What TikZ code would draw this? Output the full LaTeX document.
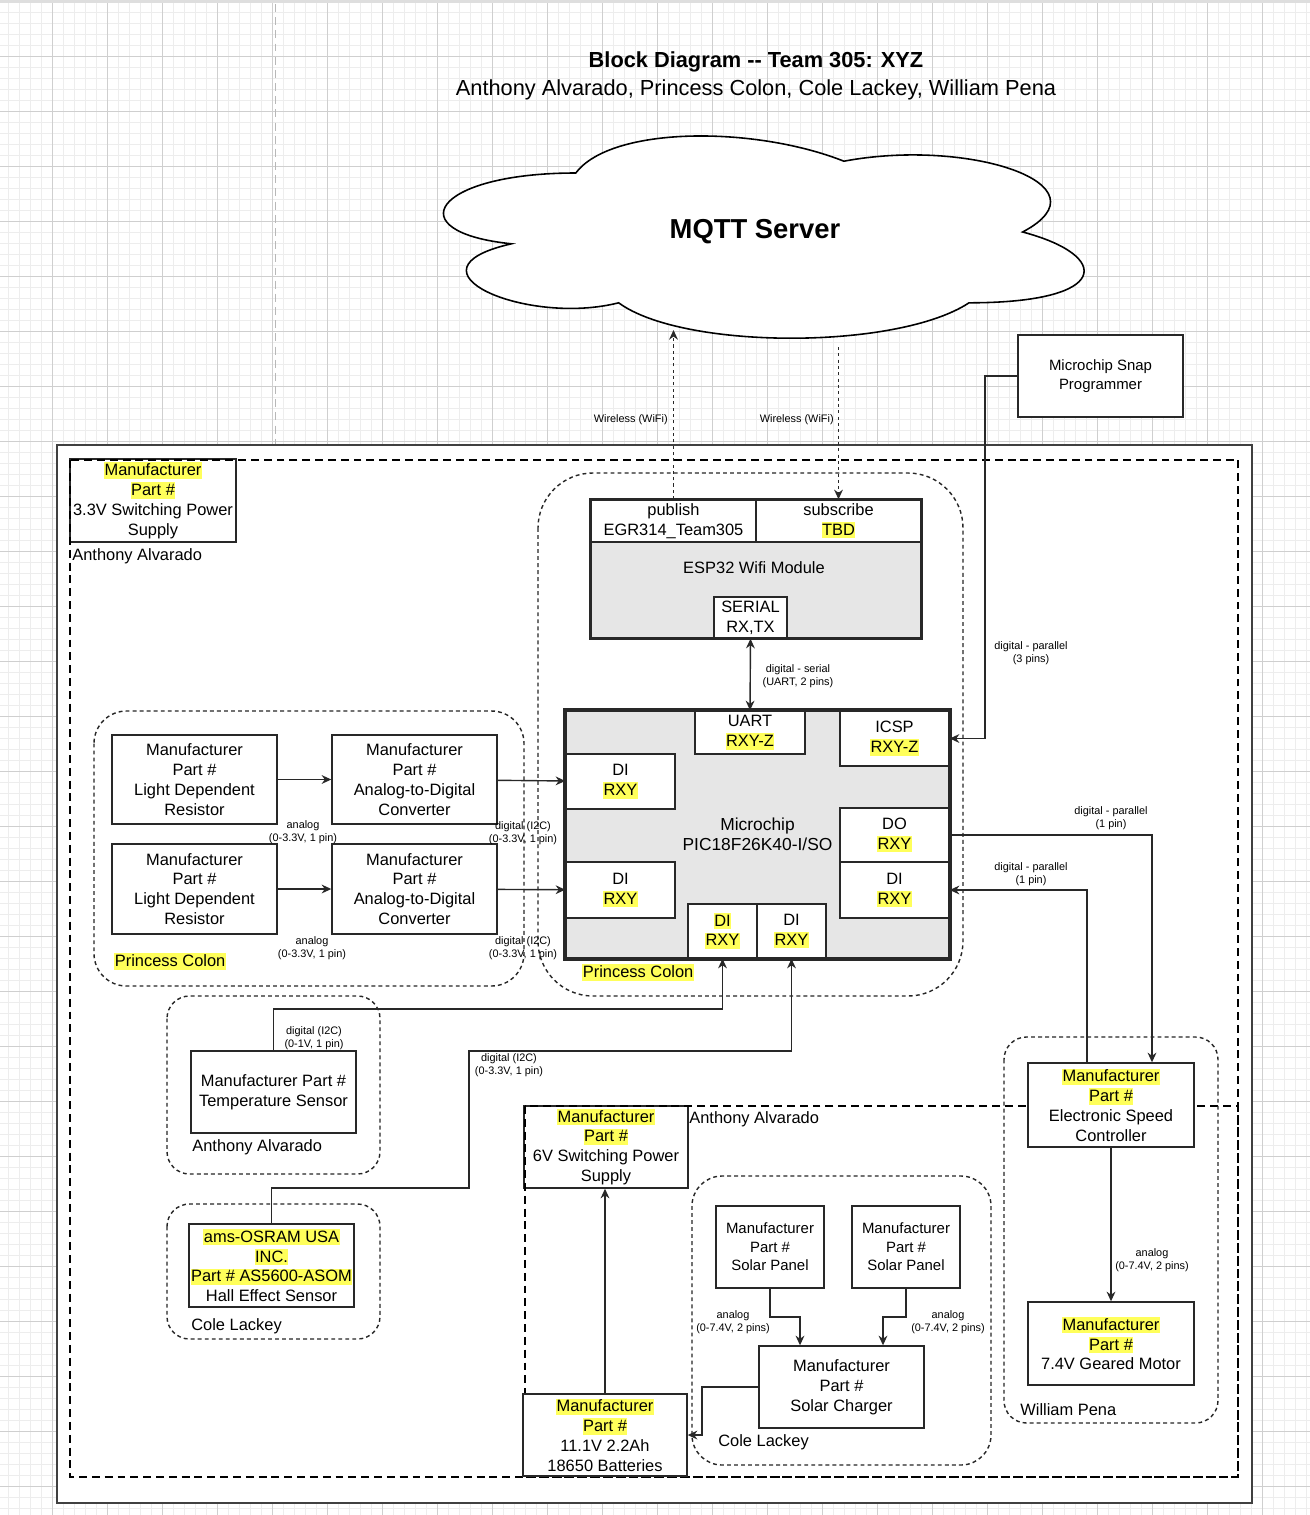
\documentclass[tikz,border=0pt]{standalone}
\usepackage{fontspec}
\setmainfont{Liberation Sans}
\usetikzlibrary{arrows.meta,calc}
\definecolor{hly}{RGB}{255,255,90}
\definecolor{chipgray}{RGB}{230,230,230}
\definecolor{linegray}{RGB}{40,40,40}
\newcommand{\hlt}[1]{{\setlength{\fboxsep}{0pt}\colorbox{hly}{\kern0.3pt\rule[-0.19em]{0pt}{0.99em}#1\kern0.3pt}}}
\newcommand{\fmain}{\fontsize{9.35}{11.3}\selectfont}
\newcommand{\fsmall}{\fontsize{6.2}{7.5}\selectfont}
\newcommand{\fpanel}{\fontsize{8.5}{10.5}\selectfont}
\newcommand{\fchip}{\fontsize{9.9}{11.4}\selectfont}
\newcommand{\ftitle}{\fontsize{12.4}{15}\selectfont}
\newcommand{\fmqtt}{\fontsize{15.6}{18}\selectfont}

\begin{document}
\begin{tikzpicture}[x=0.02cm,y=-0.02cm,
  box/.style={draw=linegray,line width=0.8pt,fill=white,inner sep=0pt,align=center,font=\fmain},
  chipbox/.style={box,fill=chipgray,line width=1.6pt},
  grp/.style={draw=black!85,line width=0.8pt,dash pattern=on 2.2pt off 1.8pt},
  teamframe/.style={draw=black,line width=1.6pt,dash pattern=on 4.5pt off 2.8pt},
  arr/.style={draw=linegray,line width=0.8pt,-{Stealth[length=5.5pt,width=5pt]}},
  dbl/.style={draw=linegray,line width=0.8pt,{Stealth[length=5.5pt,width=5pt]}-{Stealth[length=5.5pt,width=5pt]}},
  warr/.style={arr,dash pattern=on 1.8pt off 1.8pt},
  lbl/.style={inner sep=0pt,align=center,font=\fsmall,yshift=-0.03cm},
  who/.style={inner sep=0pt,anchor=west,font=\fmain,yshift=-0.03cm},
  gridminor/.style={draw=black!7,line width=0.8pt},
  gridmajor/.style={draw=black!19,line width=0.6pt}]
\useasboundingbox (0,0) rectangle (1310,1515);
\fill[white] (0,0) rectangle (1310,1515);
\foreach \i in {0,...,118} \draw[gridminor] ({8.3+11*\i},0) -- ++(0,1515);
\foreach \j in {0,...,137} \draw[gridminor] (0,{1.7+11*\j}) -- ++(1310,0);
\foreach \i in {0,...,22} \draw[gridmajor] ({52.3+55*\i},0) -- ++(0,1515);
\foreach \j in {0,...,26} \draw[gridmajor] (0,{56.7+55*\j}) -- ++(1310,0);
\fill[black!13] (0,0) rectangle (1310,2.5);
\draw[black!28,line width=1.1pt,dash pattern=on 4.5pt off 3pt] (275.5,4) -- (275.5,445);

\node[font=\bfseries\ftitle] (title) at (756,62) {Block Diagram -\kern0pt- Team 305: XYZ};
\node[font=\ftitle] (names) at (756,90) {Anthony Alvarado, Princess Colon, Cole Lackey, William Pena};

\filldraw[fill=white,draw=black,line width=0.9pt] (575.75,173) .. controls (432.75,173) and (397,232) .. (511.4,243.8) .. controls (397,269.8) and (525.7,326.4) .. (618.65,302.8) .. controls (683,350) and (897.5,350) .. (969,302.8) .. controls (1112,302.8) and (1112,255.6) .. (1022.6,232) .. controls (1112,184.8) and (969,137.6) .. (843.9,161.2) .. controls (754.5,125.8) and (611.5,125.8) .. (575.75,173) -- cycle;
\node[font=\bfseries\fmqtt] (mqtt) at (755,232) {MQTT Server};

\node[box,font=\fpanel,minimum width=3.3cm,minimum height=1.64cm] (snap) at (1100.5,376) {Microchip Snap\\Programmer};

\filldraw[fill=white,draw=black!75,line width=0.9pt] (57,445) rectangle (1252,1503);

\node[box,minimum width=3.32cm,minimum height=1.66cm] (pwr33) at (153,500.5) {\hlt{Manufacturer}\\\hlt{Part \#}\\3.3V Switching Power\\Supply};
\node[box,minimum width=3.28cm,minimum height=1.64cm] (pwr6) at (606,1147) {\hlt{Manufacturer}\\\hlt{Part \#}\\6V Switching Power\\Supply};
\draw[teamframe] (70,460) rectangle (1238,1477);
\draw[teamframe] (525,1106) rectangle (1238,1477);

\draw[grp,rounded corners=1.1cm] (538,473) rectangle (963,996);
\draw[grp,rounded corners=0.65cm] (94,711) rectangle (524,986);
\draw[grp,rounded corners=0.45cm] (167,996) rectangle (380,1174);
\draw[grp,rounded corners=0.45cm] (167,1204) rectangle (380,1339);
\draw[grp,rounded corners=0.6cm] (692,1176) rectangle (991,1465);
\draw[grp,rounded corners=0.45cm] (1004,1037) rectangle (1218,1423);

\node[chipbox,line width=0.8pt,minimum width=6.6cm,minimum height=1.92cm] (esp) at (756,590) {};
\node[box,minimum width=3.3cm,minimum height=0.84cm] (pub) at (673.5,521) {publish\\EGR314\_Team305};
\node[box,minimum width=3.3cm,minimum height=0.84cm] (sub) at (838.5,521) {subscribe\\\hlt{TBD}};
\node[font=\fmain,inner sep=0pt] (esplbl) at (754,568) {ESP32 Wifi Module};
\node[box,minimum width=1.46cm,minimum height=0.82cm] (serial) at (750.5,617.5) {SERIAL\\RX,TX};
\draw[linegray,line width=1.6pt] (pub.north west) rectangle (esp.south east);

\node[chipbox,font=\fchip,minimum width=7.66cm,minimum height=4.94cm] (chip) at (757.5,834.5) {Microchip\\PIC18F26K40-I/SO};
\node[box,minimum width=2.2cm,minimum height=0.86cm] (uart) at (750,732.5) {UART\\\hlt{RXY-Z}};
\node[box,minimum width=2.18cm,minimum height=1.1cm] (icsp) at (894.5,738.5) {ICSP\\\hlt{RXY-Z}};
\node[box,minimum width=2.18cm,minimum height=1.1cm] (diA) at (620.5,781.5) {DI\\\hlt{RXY}};
\node[box,minimum width=2.18cm,minimum height=1.12cm] (diB) at (620.5,890) {DI\\\hlt{RXY}};
\node[box,minimum width=2.18cm,minimum height=1.08cm] (doR) at (894.5,835) {DO\\\hlt{RXY}};
\node[box,minimum width=2.18cm,minimum height=1.12cm] (diR) at (894.5,890) {DI\\\hlt{RXY}};
\node[box,minimum width=1.38cm,minimum height=1.08cm] (diC) at (722.5,931) {\hlt{DI}\\\hlt{RXY}};
\node[box,minimum width=1.38cm,minimum height=1.08cm] (diD) at (791.5,931) {DI\\\hlt{RXY}};
\draw[linegray,line width=1.6pt] (chip.north west) rectangle (chip.south east);

\node[box,minimum width=3.3cm,minimum height=1.78cm] (ldrA) at (194.5,779.5) {Manufacturer\\Part \#\\Light Dependent\\Resistor};
\node[box,minimum width=3.3cm,minimum height=1.78cm] (adcA) at (414.5,779.5) {Manufacturer\\Part \#\\Analog-to-Digital\\Converter};
\node[box,minimum width=3.3cm,minimum height=1.8cm] (ldrB) at (194.5,889) {Manufacturer\\Part \#\\Light Dependent\\Resistor};
\node[box,minimum width=3.3cm,minimum height=1.8cm] (adcB) at (414.5,889) {Manufacturer\\Part \#\\Analog-to-Digital\\Converter};

\node[box,minimum width=3.3cm,minimum height=1.64cm] (temp) at (273.5,1092) {Manufacturer Part \#\\Temperature Sensor};
\node[box,minimum width=3.3cm,minimum height=1.66cm] (hall) at (271.5,1265.5) {\hlt{ams-OSRAM USA}\\\hlt{INC.}\\\hlt{Part \# AS5600-ASOM}\\Hall Effect Sensor};

\node[box,minimum width=3.28cm,minimum height=1.64cm] (batt) at (605,1435) {\hlt{Manufacturer}\\\hlt{Part \#}\\11.1V 2.2Ah\\18650 Batteries};
\node[box,font=\fpanel,minimum width=2.16cm,minimum height=1.64cm] (solA) at (770,1247) {Manufacturer\\Part \#\\Solar Panel};
\node[box,font=\fpanel,minimum width=2.16cm,minimum height=1.64cm] (solB) at (906,1247) {Manufacturer\\Part \#\\Solar Panel};
\node[box,minimum width=3.3cm,minimum height=1.64cm] (charger) at (841.5,1387) {Manufacturer\\Part \#\\Solar Charger};

\node[box,minimum width=3.32cm,minimum height=1.68cm] (esc) at (1111,1105) {\hlt{Manufacturer}\\\hlt{Part \#}\\Electronic Speed\\Controller};
\node[box,minimum width=3.32cm,minimum height=1.66cm] (motor) at (1111,1343.5) {\hlt{Manufacturer}\\\hlt{Part \#}\\7.4V Geared Motor};

\node[who] (whoA) at (72,555) {Anthony Alvarado};
\node[who] (whoB) at (114,960) {\hlt{Princess Colon}};
\node[who] (whoC) at (582,971) {\hlt{Princess Colon}};
\node[who] (whoD) at (192,1146) {Anthony Alvarado};
\node[who] (whoE) at (191,1325) {Cole Lackey};
\node[who] (whoF) at (689,1118) {Anthony Alvarado};
\node[who] (whoG) at (718,1441) {Cole Lackey};
\node[who] (whoH) at (1020,1408) {William Pena};

\coordinate (cloudin) at (673.5,330);
\coordinate (cloudout) at (838.5,347);
\coordinate (snapbend) at (985,376);
\coordinate (tempbend) at (273.5,1009);
\coordinate (hallbendA) at (469,1188);
\coordinate (hallbendB) at (469,1051);
\coordinate (solbendA) at (800,1317);
\coordinate (solbendB) at (883,1317);
\coordinate (chgbend) at (702,1387);

\draw[warr] (pub.north) -- (cloudin);
\draw[warr] (cloudout) -- (sub.north);
\draw[dbl] (serial.south) -- (uart.north);
\draw[arr] (snap.west) -- (snapbend) |- (icsp.east);
\draw[arr] (ldrA) -- (adcA);
\draw[arr] (ldrB) -- (adcB);
\draw[arr] (adcA) -- (diA);
\draw[arr] (adcB) -- (diB);
\draw[arr] (temp.north) -- (tempbend) -| (diC.south);
\draw[arr] (hall.north) |- (hallbendA) -- (hallbendB) -| (diD.south);
\draw[arr] (doR.east) -| ($(esc.north)+(41,0)$);
\draw[arr] ($(esc.north)+(-24,0)$) |- (diR.east);
\draw[arr] (esc) -- (motor);
\draw[arr] (batt.north) -- (batt.north |- pwr6.south);
\draw[arr] (solA.south) |- (solbendA) -- (solbendA |- charger.north);
\draw[arr] (solB.south) |- (solbendB) -- (solbendB |- charger.north);
\draw[arr] (charger.west) -- (chgbend) |- (batt.east);

\node[lbl,anchor=east] (wifiA) at (668,418) {Wireless (WiFi)};
\node[lbl,anchor=east] (wifiB) at (834,418) {Wireless (WiFi)};
\node[lbl] (lserial) at (798,674.5) {digital - serial\\(UART, 2 pins)};
\node[lbl] (licsp) at (1031,651.5) {digital - parallel\\(3 pins)};
\node[lbl] (ldo) at (1111,816.5) {digital - parallel\\(1 pin)};
\node[lbl] (ldi) at (1031,872.5) {digital - parallel\\(1 pin)};
\node[lbl] (lmotor) at (1152,1258.5) {analog\\(0-7.4V, 2 pins)};
\node[lbl] (lsolA) at (733,1320.5) {analog\\(0-7.4V, 2 pins)};
\node[lbl] (lsolB) at (948,1320.5) {analog\\(0-7.4V, 2 pins)};
\node[lbl] (lldrA) at (303,830.5) {analog\\(0-3.3V, 1 pin)};
\node[lbl] (lldrB) at (312,946.5) {analog\\(0-3.3V, 1 pin)};
\node[lbl] (ladcA) at (523,831.5) {digital (I2C)\\(0-3.3V, 1 pin)};
\node[lbl] (ladcB) at (523,946.5) {digital (I2C)\\(0-3.3V, 1 pin)};
\node[lbl] (ltemp) at (314,1036.5) {digital (I2C)\\(0-1V, 1 pin)};
\node[lbl] (lhall) at (509,1063.5) {digital (I2C)\\(0-3.3V, 1 pin)};
\end{tikzpicture}
\end{document}
